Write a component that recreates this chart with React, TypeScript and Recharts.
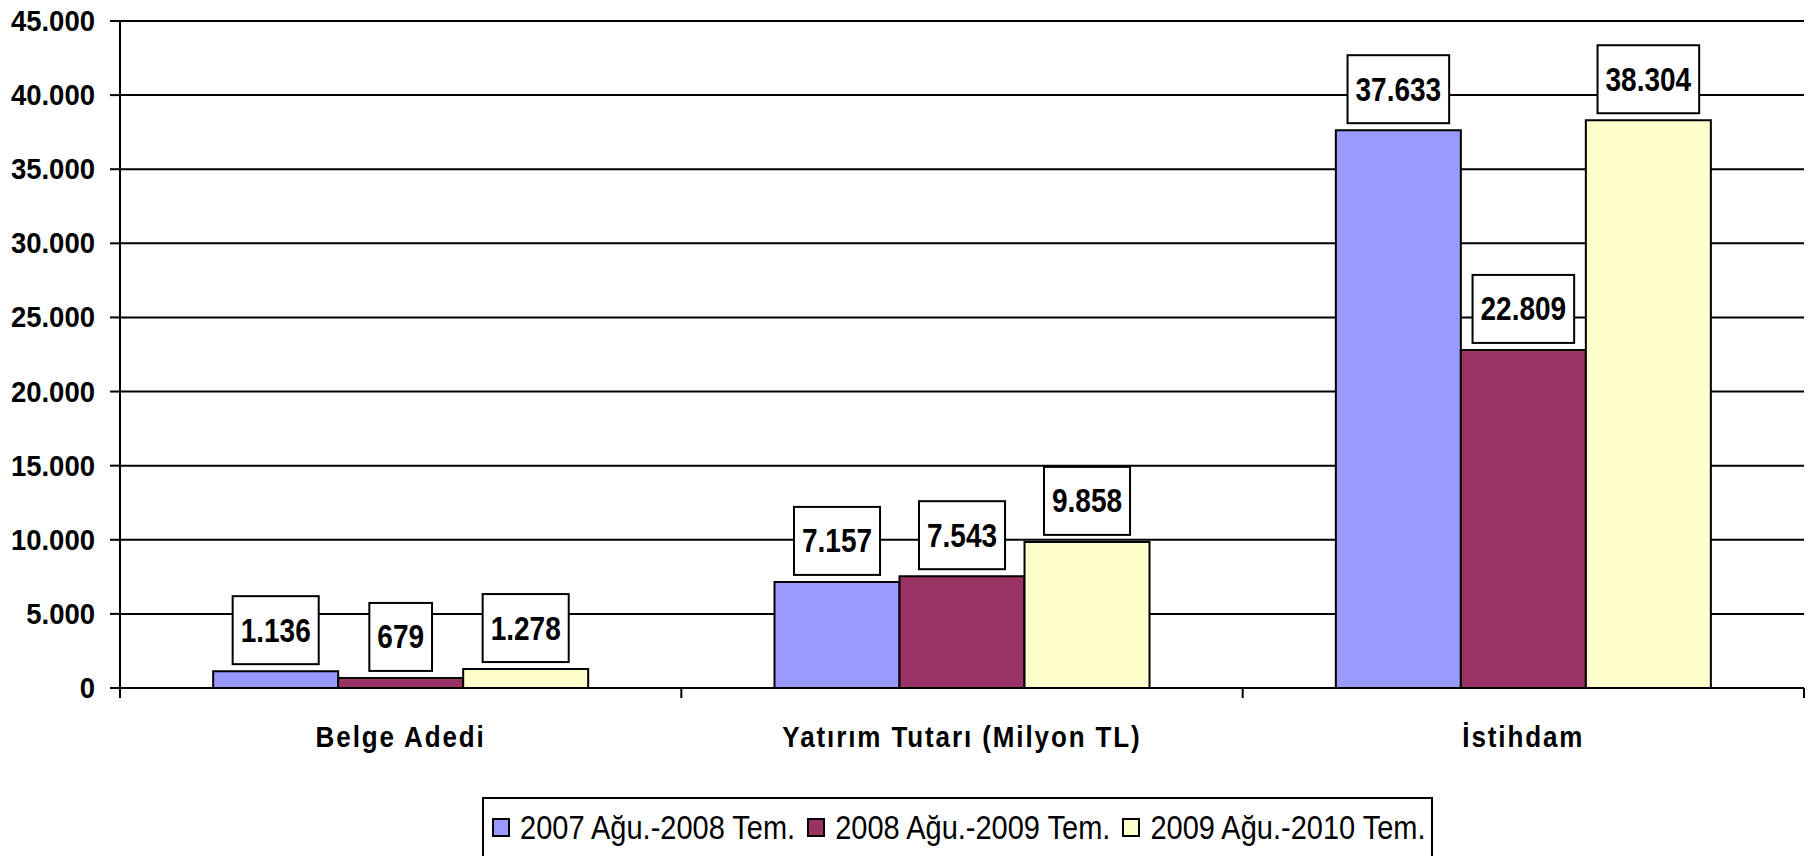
import React from 'react';
import { BarChart, Bar, XAxis, YAxis, CartesianGrid, LabelList, Legend } from 'recharts';

const categories = ['Belge Adedi', 'Yatırım Tutarı (Milyon TL)', 'İstihdam'];
const series1 = [1136, 7157, 37633];
const series2 = [679, 7543, 22809];
const series3 = [1278, 9858, 38304];
const seriesNames = ['2007 Ağu.-2008 Tem.', '2008 Ağu.-2009 Tem.', '2009 Ağu.-2010 Tem.'];
const seriesColors = ['#9999FF', '#993366', '#FFFFCC'];
const yTicks = [0, 5000, 10000, 15000, 20000, 25000, 30000, 35000, 40000, 45000];

const data = categories.map((c, i) => ({ name: c, s1: series1[i], s2: series2[i], s3: series3[i] }));

const W = 1810;
const H = 856;
const MARGIN = { top: 21, right: 6, bottom: 68, left: 0 };
const Y_AXIS_W = 120;
const PLOT_W = W - MARGIN.left - MARGIN.right - Y_AXIS_W;
const BAND = PLOT_W / categories.length;
const FONT = '"Liberation Sans", Arial, Helvetica, sans-serif';

const fmt = (v: number) => String(v).replace(/\B(?=(\d{3})+(?!\d))/g, '.');

const YTick = (props: any) => {
  const { x, y, payload } = props;
  return (
    <text
      transform={`translate(${x - 15},${y + 10}) scale(1,1.06)`}
      textAnchor="end"
      fontSize={27.5}
      fontWeight="bold"
      fontFamily={FONT}
      fill="#000"
    >
      {fmt(payload.value)}
    </text>
  );
};

const XTick = (props: any) => {
  const { x, y, payload, index } = props;
  const last = index === categories.length - 1;
  return (
    <g>
      <line x1={x - BAND / 2} y1={y - 10} x2={x - BAND / 2} y2={y} stroke="#000" strokeWidth={2} />
      {last && <line x1={x + BAND / 2} y1={y - 10} x2={x + BAND / 2} y2={y} stroke="#000" strokeWidth={2} />}
      <text
        transform={`translate(${x},${y + 49}) scale(1,1.17)`}
        textAnchor="middle"
        fontSize={26}
        fontWeight="bold"
        letterSpacing={1.9}
        fontFamily={FONT}
        fill="#000"
      >
        {payload.value}
      </text>
    </g>
  );
};

const ValueBox = (props: any) => {
  const vb = props.viewBox || {};
  const x = props.x ?? vb.x;
  const y = props.y ?? vb.y;
  const width = props.width ?? vb.width;
  const value = props.value;
  if (x == null || y == null || value == null) return null;
  const label = fmt(Number(value));
  const fs = 28;
  let tw = 0;
  for (const ch of label) tw += ch === '.' ? 0.278 * fs : 0.556 * fs;
  const bw = tw + 16;
  const bh = 68;
  const cx = x + width / 2;
  const bottom = y - 7;
  const top = bottom - bh;
  return (
    <g>
      <rect x={cx - bw / 2} y={top} width={bw} height={bh} fill="#fff" stroke="#000" strokeWidth={2} />
      <text
        transform={`translate(${cx},${top + bh / 2 + 11.5}) scale(1,1.17)`}
        textAnchor="middle"
        fontSize={fs}
        fontWeight="bold"
        fontFamily={FONT}
        fill="#000"
      >
        {label}
      </text>
    </g>
  );
};

const LegendBox = () => (
  <div
    style={{
      width: 951,
      height: 59,
      boxSizing: 'border-box',
      borderTop: '2px solid #000',
      borderLeft: '2px solid #000',
      borderRight: '2px solid #000',
      background: '#fff',
      display: 'flex',
      alignItems: 'flex-start',
      paddingLeft: 8,
      paddingTop: 14.5,
      fontFamily: FONT,
    }}
  >
    {seriesNames.map((n, i) => (
      <div key={n} style={{ display: 'flex', alignItems: 'center', marginRight: 12, height: 28 }}>
        <span
          style={{
            display: 'inline-block',
            width: 18,
            height: 19,
            boxSizing: 'border-box',
            border: '2px solid #000',
            background: seriesColors[i],
            marginRight: 10,
          }}
        />
        <span
          style={{
            display: 'inline-block',
            fontSize: 29,
            lineHeight: '28px',
            transform: 'scaleY(1.12)',
            color: '#000',
            whiteSpace: 'nowrap',
          }}
        >
          {n}
        </span>
      </div>
    ))}
  </div>
);

export default function App() {
  return (
    <div style={{ position: 'absolute', left: 0, top: 0, width: W, height: H, overflow: 'hidden', background: '#fff' }}>
      <BarChart width={W} height={H} data={data} margin={MARGIN} barGap={0} barCategoryGap="16.6%">
        <CartesianGrid xAxisId="main" yAxisId="left" vertical={false} stroke="#000" strokeWidth={2} />
        <XAxis
          xAxisId="main"
          dataKey="name"
          height={100}
          axisLine={{ stroke: '#000', strokeWidth: 2 }}
          tickLine={false}
          tickSize={10}
          tickMargin={0}
          interval={0}
          tick={<XTick />}
        />
        <XAxis
          xAxisId="top"
          dataKey="name"
          orientation="top"
          height={0}
          tick={false}
          tickLine={false}
          axisLine={{ stroke: '#888', strokeWidth: 2.5 }}
        />
        <YAxis
          yAxisId="left"
          width={Y_AXIS_W}
          domain={[0, 45000]}
          ticks={yTicks}
          interval={0}
          axisLine={{ stroke: '#000', strokeWidth: 2 }}
          tickLine={{ stroke: '#000', strokeWidth: 2 }}
          tickSize={10}
          tickMargin={0}
          tick={<YTick />}
        />
        <YAxis
          yAxisId="right"
          orientation="right"
          width={0}
          domain={[0, 45000]}
          tick={false}
          tickLine={false}
          axisLine={{ stroke: '#888', strokeWidth: 2.5 }}
        />
        <Legend
          layout="horizontal"
          verticalAlign="middle"
          align="center"
          wrapperStyle={{ left: 482, top: 797, width: 951, height: 59 }}
          content={() => <LegendBox />}
        />
        <Bar xAxisId="main" yAxisId="left" dataKey="s1" name={seriesNames[0]} fill={seriesColors[0]} stroke="#000" strokeWidth={2} isAnimationActive={false}>
          <LabelList dataKey="s1" content={<ValueBox />} />
        </Bar>
        <Bar xAxisId="main" yAxisId="left" dataKey="s2" name={seriesNames[1]} fill={seriesColors[1]} stroke="#000" strokeWidth={2} isAnimationActive={false}>
          <LabelList dataKey="s2" content={<ValueBox />} />
        </Bar>
        <Bar xAxisId="main" yAxisId="left" dataKey="s3" name={seriesNames[2]} fill={seriesColors[2]} stroke="#000" strokeWidth={2} isAnimationActive={false}>
          <LabelList dataKey="s3" content={<ValueBox />} />
        </Bar>
      </BarChart>
    </div>
  );
}
